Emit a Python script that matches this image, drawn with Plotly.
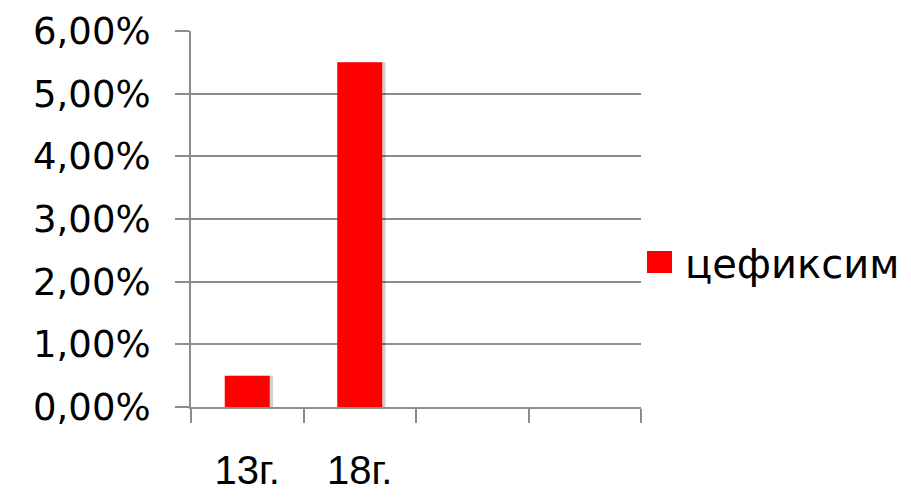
import plotly.graph_objects as go

categories = ["13г.", "18г.", " ", "  "]
values = [0.005, 0.055, None, None]
series_name = "цефиксим"
y_ticks = [0, 0.01, 0.02, 0.03, 0.04, 0.05, 0.06]

FONT = "DejaVu Sans"
GREY = "#8c8c8c"

fig = go.Figure()
# soft shadow behind bars
fig.add_trace(go.Bar(x=categories, y=values, width=0.4, offset=-0.17,
                     marker=dict(color="rgba(0,0,0,0.18)", line=dict(width=0)),
                     showlegend=False, hoverinfo="skip"))
fig.add_trace(go.Bar(x=categories, y=values, name=series_name, width=0.4, offset=-0.2,
                     marker=dict(color="#ff0000", line=dict(width=0)),
                     showlegend=False))

L, R, T, B = 191, 270, 31, 91
pw = 911 - L - R
ph = 498 - T - B

def px_x(p):
    return (p - L) / pw

def px_y(p):
    return (498 - B - p) / ph

fig.add_shape(type="rect", xref="paper", yref="paper",
              x0=px_x(647), x1=px_x(672), y0=px_y(273), y1=px_y(251),
              fillcolor="#ff0000", line=dict(width=0))
fig.add_annotation(xref="paper", yref="paper", x=px_x(683), y=px_y(264),
                   text=series_name, showarrow=False, xanchor="left", yanchor="middle",
                   font=dict(family=FONT, size=40, color="#000"))

fig.update_layout(
    width=911, height=498,
    margin=dict(l=L, r=R, t=T, b=B, pad=0, autoexpand=False),
    paper_bgcolor="white", plot_bgcolor="white",
    barmode="overlay",
    separators=", ",
    font=dict(family=FONT, size=37, color="#000"),
    xaxis=dict(type="category", categoryorder="array", categoryarray=categories,
               range=[-0.5, 3.5], tickson="boundaries", ticks="outside", ticklen=14,
               tickwidth=2, tickcolor=GREY, showline=True, linecolor=GREY, linewidth=2,
               showgrid=False, ticklabelstandoff=27,
               tickfont=dict(family="Liberation Sans", size=40),
               automargin=False),
    yaxis=dict(range=[0, 0.06], tickvals=y_ticks, tickformat=".2%", ticks="outside",
               ticklen=14, tickwidth=2, tickcolor=GREY, showline=True, linecolor=GREY,
               linewidth=2, showgrid=True, gridcolor=GREY, gridwidth=2, zeroline=False,
               ticklabelstandoff=17, tickfont=dict(size=37), automargin=False),
)

fig.write_html("out.html")
